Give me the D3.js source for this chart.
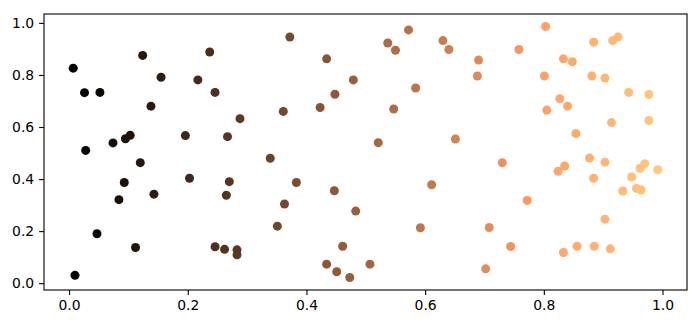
<!DOCTYPE html>
<html>
<head>
<meta charset="utf-8">
<script src="https://cdn.jsdelivr.net/npm/d3@7"></script>
<style>
  body { margin: 0; background: #fff; }
  #chart text { font-family: "DejaVu Sans", sans-serif; }
</style>
</head>
<body>
<div id="chart"></div>
<script>
// scatter points, colour follows x (copper map)
const xs = [
  0.007, 0.026, 0.052, 0.028, 0.047, 0.010, 0.124, 0.155, 0.138, 0.074,
  0.095, 0.103, 0.120, 0.093, 0.084, 0.143, 0.112, 0.237, 0.217, 0.246,
  0.196, 0.267, 0.203, 0.270, 0.265, 0.246, 0.262, 0.288, 0.283, 0.283,
  0.372, 0.434, 0.479, 0.448, 0.423, 0.361, 0.339, 0.383, 0.447, 0.363,
  0.483, 0.351, 0.461, 0.434, 0.451, 0.473, 0.507, 0.572, 0.537, 0.550,
  0.630, 0.640, 0.584, 0.547, 0.521, 0.651, 0.611, 0.592, 0.690, 0.688,
  0.758, 0.803, 0.801, 0.805, 0.833, 0.848, 0.884, 0.916, 0.925, 0.881,
  0.903, 0.827, 0.840, 0.943, 0.977, 0.914, 0.977, 0.854, 0.730, 0.877,
  0.903, 0.835, 0.824, 0.884, 0.970, 0.962, 0.992, 0.948, 0.933, 0.956,
  0.964, 0.772, 0.708, 0.744, 0.903, 0.856, 0.885, 0.912, 0.833, 0.702
];
const ys = [
  0.826, 0.732, 0.733, 0.510, 0.190, 0.030, 0.875, 0.791, 0.680, 0.539,
  0.555, 0.568, 0.463, 0.387, 0.321, 0.342, 0.137, 0.888, 0.781, 0.733,
  0.567, 0.563, 0.403, 0.390, 0.338, 0.140, 0.130, 0.632, 0.128, 0.109,
  0.946, 0.862, 0.781, 0.726, 0.675, 0.660, 0.480, 0.387, 0.355, 0.304,
  0.277, 0.219, 0.142, 0.073, 0.044, 0.022, 0.073, 0.973, 0.923, 0.895,
  0.932, 0.898, 0.750, 0.669, 0.540, 0.554, 0.378, 0.213, 0.857, 0.796,
  0.898, 0.986, 0.796, 0.665, 0.862, 0.851, 0.926, 0.932, 0.946, 0.796,
  0.788, 0.709, 0.680, 0.733, 0.725, 0.617, 0.625, 0.575, 0.463, 0.481,
  0.465, 0.450, 0.430, 0.403, 0.459, 0.441, 0.436, 0.408, 0.354, 0.364,
  0.358, 0.318, 0.214, 0.141, 0.246, 0.142, 0.142, 0.132, 0.118, 0.055
];
const tickVals = [0.0, 0.2, 0.4, 0.6, 0.8, 1.0];

const points = xs.map((x, i) => ({ x: x, y: ys[i] }));

const W = 700, H = 326;
const margin = { top: 14, right: 13, bottom: 36, left: 44 },
      width = W - margin.left - margin.right,
      height = H - margin.top - margin.bottom;

const svg = d3.select("#chart")
  .append("svg")
  .attr("width", W)
  .attr("height", H)
  .append("g")
  .attr("transform", `translate(${margin.left},${margin.top})`);

// matplotlib style 5% padding around the data
const xExt = d3.extent(xs), yExt = d3.extent(ys);
const xPad = (xExt[1] - xExt[0]) * 0.05, yPad = (yExt[1] - yExt[0]) * 0.05;

const xScale = d3.scaleLinear()
  .domain([xExt[0] - xPad, xExt[1] + xPad])
  .range([0, width]);

const yScale = d3.scaleLinear()
  .domain([yExt[0] - yPad, yExt[1] + yPad])
  .range([height, 0]);

const copper = t => d3.rgb(
  Math.min(1, 1.25 * t) * 255,
  0.7812 * t * 255,
  0.4975 * t * 255
).toString();
const color = d3.scaleSequential(copper).domain(xExt);

svg.selectAll(".dot")
  .data(points)
  .enter()
  .append("circle")
  .attr("class", "dot")
  .attr("cx", d => xScale(d.x))
  .attr("cy", d => yScale(d.y))
  .attr("r", 4.5)
  .attr("fill", d => color(d.x));

// axes
const fmt = d3.format(".1f");
const xAxis = svg.append("g")
  .attr("transform", `translate(0,${height})`)
  .call(d3.axisBottom(xScale).tickValues(tickVals).tickFormat(fmt)
    .tickSizeInner(4.9).tickSizeOuter(0).tickPadding(4.9));

const yAxis = svg.append("g")
  .call(d3.axisLeft(yScale).tickValues(tickVals).tickFormat(fmt)
    .tickSizeInner(4.9).tickSizeOuter(0).tickPadding(4.9));

[xAxis, yAxis].forEach(ax => {
  ax.select(".domain").remove();
  ax.selectAll(".tick line").attr("stroke", "#000").attr("stroke-width", 1.1);
  ax.selectAll(".tick text")
    .attr("fill", "#000")
    .style("font-size", "13.9px");
});

// frame
svg.append("rect")
  .attr("x", 0)
  .attr("y", 0)
  .attr("width", width)
  .attr("height", height)
  .attr("fill", "none")
  .attr("stroke", "#000")
  .attr("stroke-width", 1.1);
</script>
</body>
</html>
